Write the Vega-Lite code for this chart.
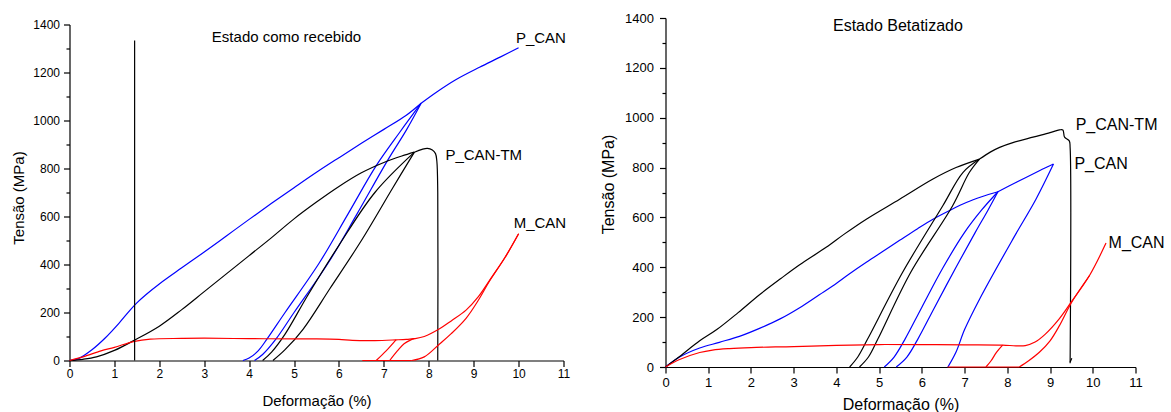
{
"$schema": "https://vega.github.io/schema/vega-lite/v6.json",
"padding": {"left": 11.5, "top": 12, "right": 5, "bottom": 0},
"spacing": 102,
"bounds": "flush",
"center": true,
"config": {"view": {"stroke": null}, "font": "Liberation Sans",
  "axis": {"grid": false, "domainColor": "#000", "tickColor": "#000", "labelColor": "#000", "titleColor": "#000", "labelFont": "Liberation Sans", "titleFont": "Liberation Sans", "titleFontWeight": "normal", "domainWidth": 1.2, "tickWidth": 1.2, "labelFlush": false, "labelOverlap": false}},
"datasets": {
 "rec": [
  {"s":"P_CAN","g":"a1","x":0,"y":0},{"s":"P_CAN","g":"a1","x":0.2,"y":8},{"s":"P_CAN","g":"a1","x":0.5,"y":45},{"s":"P_CAN","g":"a1","x":0.8,"y":95},{"s":"P_CAN","g":"a1","x":1.1,"y":155},{"s":"P_CAN","g":"a1","x":1.34,"y":208},{"s":"P_CAN","g":"a1","x":1.5,"y":240},{"s":"P_CAN","g":"a1","x":1.7,"y":274},{"s":"P_CAN","g":"a1","x":2.0,"y":319},{"s":"P_CAN","g":"a1","x":2.5,"y":386},{"s":"P_CAN","g":"a1","x":3.0,"y":452},{"s":"P_CAN","g":"a1","x":3.5,"y":520},{"s":"P_CAN","g":"a1","x":4.0,"y":588},{"s":"P_CAN","g":"a1","x":4.5,"y":655},{"s":"P_CAN","g":"a1","x":5.0,"y":720},{"s":"P_CAN","g":"a1","x":5.5,"y":784},{"s":"P_CAN","g":"a1","x":6.0,"y":845},{"s":"P_CAN","g":"a1","x":6.5,"y":905},{"s":"P_CAN","g":"a1","x":7.0,"y":963},{"s":"P_CAN","g":"a1","x":7.5,"y":1022},{"s":"P_CAN","g":"a1","x":7.83,"y":1072},
  {"s":"P_CAN","g":"a2","x":7.83,"y":1072},{"s":"P_CAN","g":"a2","x":7.5,"y":960},{"s":"P_CAN","g":"a2","x":7.09,"y":836},{"s":"P_CAN","g":"a2","x":6.4,"y":610},{"s":"P_CAN","g":"a2","x":5.75,"y":403},{"s":"P_CAN","g":"a2","x":5.0,"y":200},{"s":"P_CAN","g":"a2","x":4.6,"y":90},{"s":"P_CAN","g":"a2","x":4.3,"y":25},{"s":"P_CAN","g":"a2","x":4.12,"y":0},
  {"s":"P_CAN","g":"a3","x":3.86,"y":0},{"s":"P_CAN","g":"a3","x":4.0,"y":10},{"s":"P_CAN","g":"a3","x":4.2,"y":40},{"s":"P_CAN","g":"a3","x":4.4,"y":90},{"s":"P_CAN","g":"a3","x":4.8,"y":200},{"s":"P_CAN","g":"a3","x":5.55,"y":403},{"s":"P_CAN","g":"a3","x":6.2,"y":610},{"s":"P_CAN","g":"a3","x":6.83,"y":812},{"s":"P_CAN","g":"a3","x":7.35,"y":950},{"s":"P_CAN","g":"a3","x":7.83,"y":1072},
  {"s":"P_CAN","g":"a4","x":7.83,"y":1072},{"s":"P_CAN","g":"a4","x":8.17,"y":1118},{"s":"P_CAN","g":"a4","x":8.6,"y":1170},{"s":"P_CAN","g":"a4","x":9.13,"y":1222},{"s":"P_CAN","g":"a4","x":9.6,"y":1265},{"s":"P_CAN","g":"a4","x":10.0,"y":1303},

  {"s":"P_CAN-TM","g":"b1","x":0,"y":0},{"s":"P_CAN-TM","g":"b1","x":0.3,"y":5},{"s":"P_CAN-TM","g":"b1","x":0.6,"y":15},{"s":"P_CAN-TM","g":"b1","x":1.0,"y":42},{"s":"P_CAN-TM","g":"b1","x":1.45,"y":85},{"s":"P_CAN-TM","g":"b1","x":2.0,"y":143},{"s":"P_CAN-TM","g":"b1","x":2.5,"y":212},{"s":"P_CAN-TM","g":"b1","x":3.0,"y":287},{"s":"P_CAN-TM","g":"b1","x":3.5,"y":362},{"s":"P_CAN-TM","g":"b1","x":4.0,"y":437},{"s":"P_CAN-TM","g":"b1","x":4.5,"y":512},{"s":"P_CAN-TM","g":"b1","x":5.0,"y":590},{"s":"P_CAN-TM","g":"b1","x":5.5,"y":660},{"s":"P_CAN-TM","g":"b1","x":6.0,"y":725},{"s":"P_CAN-TM","g":"b1","x":6.5,"y":782},{"s":"P_CAN-TM","g":"b1","x":7.0,"y":825},{"s":"P_CAN-TM","g":"b1","x":7.4,"y":852},{"s":"P_CAN-TM","g":"b1","x":7.68,"y":868},
  {"s":"P_CAN-TM","g":"b2","x":7.68,"y":868},{"s":"P_CAN-TM","g":"b2","x":7.2,"y":720},{"s":"P_CAN-TM","g":"b2","x":6.5,"y":500},{"s":"P_CAN-TM","g":"b2","x":5.8,"y":300},{"s":"P_CAN-TM","g":"b2","x":5.2,"y":130},{"s":"P_CAN-TM","g":"b2","x":4.8,"y":45},{"s":"P_CAN-TM","g":"b2","x":4.53,"y":0},
  {"s":"P_CAN-TM","g":"b3","x":4.3,"y":0},{"s":"P_CAN-TM","g":"b3","x":4.5,"y":35},{"s":"P_CAN-TM","g":"b3","x":4.8,"y":110},{"s":"P_CAN-TM","g":"b3","x":5.3,"y":270},{"s":"P_CAN-TM","g":"b3","x":6.0,"y":480},{"s":"P_CAN-TM","g":"b3","x":6.8,"y":700},{"s":"P_CAN-TM","g":"b3","x":7.68,"y":868},
  {"s":"P_CAN-TM","g":"b4","x":7.68,"y":868},{"s":"P_CAN-TM","g":"b4","x":7.85,"y":880},{"s":"P_CAN-TM","g":"b4","x":7.97,"y":884},{"s":"P_CAN-TM","g":"b4","x":8.08,"y":877},{"s":"P_CAN-TM","g":"b4","x":8.15,"y":862},{"s":"P_CAN-TM","g":"b4","x":8.18,"y":830},{"s":"P_CAN-TM","g":"b4","x":8.2,"y":700},{"s":"P_CAN-TM","g":"b4","x":8.2,"y":0},

  {"s":"M_CAN","g":"c1","x":0,"y":0},{"s":"M_CAN","g":"c1","x":0.3,"y":15},{"s":"M_CAN","g":"c1","x":0.7,"y":40},{"s":"M_CAN","g":"c1","x":1.0,"y":55},{"s":"M_CAN","g":"c1","x":1.45,"y":80},{"s":"M_CAN","g":"c1","x":1.8,"y":89},{"s":"M_CAN","g":"c1","x":2.5,"y":92},{"s":"M_CAN","g":"c1","x":3.0,"y":93},{"s":"M_CAN","g":"c1","x":4.0,"y":91},{"s":"M_CAN","g":"c1","x":5.0,"y":90},{"s":"M_CAN","g":"c1","x":5.5,"y":90},{"s":"M_CAN","g":"c1","x":6.0,"y":88},{"s":"M_CAN","g":"c1","x":6.3,"y":84},{"s":"M_CAN","g":"c1","x":6.8,"y":83},{"s":"M_CAN","g":"c1","x":7.27,"y":86},{"s":"M_CAN","g":"c1","x":7.5,"y":88},{"s":"M_CAN","g":"c1","x":7.68,"y":91},{"s":"M_CAN","g":"c1","x":7.9,"y":100},{"s":"M_CAN","g":"c1","x":8.24,"y":132},{"s":"M_CAN","g":"c1","x":8.5,"y":165},{"s":"M_CAN","g":"c1","x":8.83,"y":210},{"s":"M_CAN","g":"c1","x":9.1,"y":265},{"s":"M_CAN","g":"c1","x":9.35,"y":333},{"s":"M_CAN","g":"c1","x":9.7,"y":430},{"s":"M_CAN","g":"c1","x":10.0,"y":528},
  {"s":"M_CAN","g":"c2","x":7.27,"y":86},{"s":"M_CAN","g":"c2","x":7.05,"y":40},{"s":"M_CAN","g":"c2","x":6.83,"y":0},
  {"s":"M_CAN","g":"c5","x":6.52,"y":0},{"s":"M_CAN","g":"c5","x":7.62,"y":0},
  {"s":"M_CAN","g":"c3","x":7.13,"y":0},{"s":"M_CAN","g":"c3","x":7.3,"y":40},{"s":"M_CAN","g":"c3","x":7.45,"y":70},{"s":"M_CAN","g":"c3","x":7.6,"y":86},{"s":"M_CAN","g":"c3","x":7.68,"y":91},
  {"s":"M_CAN","g":"c4","x":7.62,"y":0},{"s":"M_CAN","g":"c4","x":7.9,"y":15},{"s":"M_CAN","g":"c4","x":8.24,"y":69},{"s":"M_CAN","g":"c4","x":8.5,"y":112},{"s":"M_CAN","g":"c4","x":8.83,"y":176},{"s":"M_CAN","g":"c4","x":9.1,"y":250},{"s":"M_CAN","g":"c4","x":9.35,"y":330},{"s":"M_CAN","g":"c4","x":9.7,"y":430},{"s":"M_CAN","g":"c4","x":10.0,"y":528},

  {"s":"linha","g":"d","x":1.45,"y":0},{"s":"linha","g":"d","x":1.45,"y":1333}
 ],
 "recL": [
  {"t":"P_CAN","x":9.94,"y":1344},{"t":"P_CAN-TM","x":8.37,"y":858},{"t":"M_CAN","x":9.89,"y":575},{"t":"Estado como recebido","x":3.17,"y":1346}
 ],
 "bet": [
  {"s":"P_CAN","g":"a1","x":0,"y":0},{"s":"P_CAN","g":"a1","x":0.33,"y":40},{"s":"P_CAN","g":"a1","x":0.8,"y":76},{"s":"P_CAN","g":"a1","x":1.26,"y":99},{"s":"P_CAN","g":"a1","x":1.73,"y":123},{"s":"P_CAN","g":"a1","x":2.2,"y":155},{"s":"P_CAN","g":"a1","x":2.67,"y":192},{"s":"P_CAN","g":"a1","x":3.14,"y":238},{"s":"P_CAN","g":"a1","x":3.6,"y":290},{"s":"P_CAN","g":"a1","x":3.92,"y":326},{"s":"P_CAN","g":"a1","x":4.3,"y":373},{"s":"P_CAN","g":"a1","x":4.7,"y":420},{"s":"P_CAN","g":"a1","x":5.1,"y":465},{"s":"P_CAN","g":"a1","x":5.48,"y":508},{"s":"P_CAN","g":"a1","x":5.9,"y":555},{"s":"P_CAN","g":"a1","x":6.26,"y":593},{"s":"P_CAN","g":"a1","x":6.65,"y":628},{"s":"P_CAN","g":"a1","x":7.04,"y":660},{"s":"P_CAN","g":"a1","x":7.4,"y":683},{"s":"P_CAN","g":"a1","x":7.78,"y":703},
  {"s":"P_CAN","g":"a2","x":7.78,"y":703},{"s":"P_CAN","g":"a2","x":7.55,"y":630},{"s":"P_CAN","g":"a2","x":7.25,"y":540},{"s":"P_CAN","g":"a2","x":6.8,"y":400},{"s":"P_CAN","g":"a2","x":6.3,"y":240},{"s":"P_CAN","g":"a2","x":5.9,"y":110},{"s":"P_CAN","g":"a2","x":5.65,"y":40},{"s":"P_CAN","g":"a2","x":5.4,"y":0},
  {"s":"P_CAN","g":"a3","x":5.12,"y":0},{"s":"P_CAN","g":"a3","x":5.35,"y":40},{"s":"P_CAN","g":"a3","x":5.6,"y":110},{"s":"P_CAN","g":"a3","x":6.0,"y":240},{"s":"P_CAN","g":"a3","x":6.5,"y":400},{"s":"P_CAN","g":"a3","x":7.0,"y":540},{"s":"P_CAN","g":"a3","x":7.4,"y":630},{"s":"P_CAN","g":"a3","x":7.78,"y":703},
  {"s":"P_CAN","g":"a4","x":7.78,"y":703},{"s":"P_CAN","g":"a4","x":8.2,"y":740},{"s":"P_CAN","g":"a4","x":8.75,"y":787},{"s":"P_CAN","g":"a4","x":9.08,"y":814},
  {"s":"P_CAN","g":"a5","x":9.08,"y":814},{"s":"P_CAN","g":"a5","x":8.67,"y":673},{"s":"P_CAN","g":"a5","x":8.13,"y":513},{"s":"P_CAN","g":"a5","x":7.35,"y":272},{"s":"P_CAN","g":"a5","x":7.0,"y":150},{"s":"P_CAN","g":"a5","x":6.8,"y":60},{"s":"P_CAN","g":"a5","x":6.61,"y":0},

  {"s":"P_CAN-TM","g":"b1","x":0,"y":0},{"s":"P_CAN-TM","g":"b1","x":0.33,"y":42},{"s":"P_CAN-TM","g":"b1","x":0.8,"y":105},{"s":"P_CAN-TM","g":"b1","x":1.2,"y":150},{"s":"P_CAN-TM","g":"b1","x":1.7,"y":218},{"s":"P_CAN-TM","g":"b1","x":2.2,"y":290},{"s":"P_CAN-TM","g":"b1","x":2.7,"y":355},{"s":"P_CAN-TM","g":"b1","x":3.14,"y":410},{"s":"P_CAN-TM","g":"b1","x":3.76,"y":480},{"s":"P_CAN-TM","g":"b1","x":4.2,"y":535},{"s":"P_CAN-TM","g":"b1","x":4.7,"y":593},{"s":"P_CAN-TM","g":"b1","x":5.48,"y":673},{"s":"P_CAN-TM","g":"b1","x":6.26,"y":754},{"s":"P_CAN-TM","g":"b1","x":6.8,"y":800},{"s":"P_CAN-TM","g":"b1","x":7.35,"y":834},
  {"s":"P_CAN-TM","g":"b2","x":7.35,"y":834},{"s":"P_CAN-TM","g":"b2","x":7.11,"y":780},{"s":"P_CAN-TM","g":"b2","x":6.72,"y":647},{"s":"P_CAN-TM","g":"b2","x":5.74,"y":380},{"s":"P_CAN-TM","g":"b2","x":4.97,"y":112},{"s":"P_CAN-TM","g":"b2","x":4.75,"y":40},{"s":"P_CAN-TM","g":"b2","x":4.54,"y":0},
  {"s":"P_CAN-TM","g":"b3","x":4.31,"y":0},{"s":"P_CAN-TM","g":"b3","x":4.5,"y":40},{"s":"P_CAN-TM","g":"b3","x":4.73,"y":112},{"s":"P_CAN-TM","g":"b3","x":5.55,"y":380},{"s":"P_CAN-TM","g":"b3","x":6.49,"y":647},{"s":"P_CAN-TM","g":"b3","x":6.96,"y":780},{"s":"P_CAN-TM","g":"b3","x":7.35,"y":834},
  {"s":"P_CAN-TM","g":"b4","x":7.35,"y":834},{"s":"P_CAN-TM","g":"b4","x":7.6,"y":862},{"s":"P_CAN-TM","g":"b4","x":7.82,"y":881},{"s":"P_CAN-TM","g":"b4","x":8.13,"y":900},{"s":"P_CAN-TM","g":"b4","x":8.6,"y":922},{"s":"P_CAN-TM","g":"b4","x":9.0,"y":940},{"s":"P_CAN-TM","g":"b4","x":9.22,"y":951},{"s":"P_CAN-TM","g":"b4","x":9.3,"y":951},{"s":"P_CAN-TM","g":"b4","x":9.34,"y":922},{"s":"P_CAN-TM","g":"b4","x":9.45,"y":907},{"s":"P_CAN-TM","g":"b4","x":9.47,"y":880},{"s":"P_CAN-TM","g":"b4","x":9.47,"y":15},
  {"s":"P_CAN-TM","g":"b5","x":9.47,"y":20},{"s":"P_CAN-TM","g":"b5","x":9.51,"y":35},

  {"s":"M_CAN","g":"c1","x":0,"y":0},{"s":"M_CAN","g":"c1","x":0.33,"y":30},{"s":"M_CAN","g":"c1","x":0.8,"y":58},{"s":"M_CAN","g":"c1","x":1.1,"y":68},{"s":"M_CAN","g":"c1","x":1.5,"y":74},{"s":"M_CAN","g":"c1","x":2.0,"y":78},{"s":"M_CAN","g":"c1","x":3.0,"y":82},{"s":"M_CAN","g":"c1","x":4.0,"y":87},{"s":"M_CAN","g":"c1","x":5.0,"y":90},{"s":"M_CAN","g":"c1","x":6.0,"y":90},{"s":"M_CAN","g":"c1","x":7.0,"y":89},{"s":"M_CAN","g":"c1","x":7.89,"y":88},{"s":"M_CAN","g":"c1","x":8.2,"y":85},{"s":"M_CAN","g":"c1","x":8.42,"y":86},{"s":"M_CAN","g":"c1","x":8.65,"y":100},{"s":"M_CAN","g":"c1","x":8.89,"y":132},{"s":"M_CAN","g":"c1","x":9.2,"y":190},{"s":"M_CAN","g":"c1","x":9.49,"y":259},{"s":"M_CAN","g":"c1","x":9.92,"y":366},{"s":"M_CAN","g":"c1","x":10.31,"y":497},
  {"s":"M_CAN","g":"c2","x":7.89,"y":88},{"s":"M_CAN","g":"c2","x":7.75,"y":60},{"s":"M_CAN","g":"c2","x":7.62,"y":25},{"s":"M_CAN","g":"c2","x":7.5,"y":0},
  {"s":"M_CAN","g":"c4","x":6.6,"y":0},{"s":"M_CAN","g":"c4","x":8.28,"y":0},
  {"s":"M_CAN","g":"c3","x":8.28,"y":0},{"s":"M_CAN","g":"c3","x":8.5,"y":25},{"s":"M_CAN","g":"c3","x":8.75,"y":59},{"s":"M_CAN","g":"c3","x":9.0,"y":105},{"s":"M_CAN","g":"c3","x":9.22,"y":166},{"s":"M_CAN","g":"c3","x":9.5,"y":258},{"s":"M_CAN","g":"c3","x":9.92,"y":366}
 ],
 "betL": [
  {"t":"P_CAN-TM","x":9.6,"y":970},{"t":"P_CAN","x":9.57,"y":814},{"t":"M_CAN","x":10.37,"y":497},{"t":"Estado Betatizado","x":3.92,"y":1367}
 ]
},
"hconcat": [
 {
  "width": 494, "height": 336,
  "encoding": {
   "x": {"field": "x", "type": "quantitative", "scale": {"domain": [0, 11], "nice": false},
     "axis": {"values": [0,0.25,0.5,0.75,1,1.25,1.5,1.75,2,2.25,2.5,2.75,3,3.25,3.5,3.75,4,4.25,4.5,4.75,5,5.25,5.5,5.75,6,6.25,6.5,6.75,7,7.25,7.5,7.75,8,8.25,8.5,8.75,9,9.25,9.5,9.75,10,10.25,10.5,10.75,11],
       "format": "d",
       "labelExpr": "datum.value % 1 === 0 ? datum.label : ''",
       "tickSize": {"condition": {"test": "datum.value % 1 === 0", "value": 6}, "value": 3.5},
       "labelFontSize": 12, "labelPadding": 2, "title": "Deformação (%)", "titleFontSize": 15, "titleY": 40, "titleBaseline": "middle"}},
   "y": {"field": "y", "type": "quantitative", "scale": {"domain": [0, 1400], "nice": false},
     "axis": {"values": [0,100,200,300,400,500,600,700,800,900,1000,1100,1200,1300,1400],
       "format": "d",
       "labelExpr": "datum.value % 200 === 0 ? datum.label : ''",
       "tickSize": {"condition": {"test": "datum.value % 200 === 0", "value": 6}, "value": 3.5},
       "labelFontSize": 12, "labelPadding": 4, "title": "Tensão (MPa)", "titleFontSize": 15, "titleX": -51, "titleY": 173, "titleBaseline": "middle", "titleAngle": -90}}
  },
  "layer": [
   {"data": {"name": "rec"},
    "transform": [{"window": [{"op": "row_number", "as": "i"}]}],
    "mark": {"type": "line", "strokeWidth": 1.2, "interpolate": "catmull-rom"},
    "encoding": {
     "color": {"field": "s", "type": "nominal", "scale": {"domain": ["P_CAN","P_CAN-TM","M_CAN","linha"], "range": ["#0000ff","#000000","#ff0000","#000000"]}, "legend": null},
     "detail": {"field": "g"},
     "order": {"field": "i", "type": "quantitative"}
    }},
   {"data": {"name": "recL"},
    "mark": {"type": "text", "align": "left", "baseline": "middle", "fontSize": 15, "font": "Liberation Sans", "color": "#000"},
    "encoding": {"text": {"field": "t"}}}
  ]
 },
 {
  "width": 470, "height": 349,
  "encoding": {
   "x": {"field": "x", "type": "quantitative", "scale": {"domain": [0, 11], "nice": false},
     "axis": {"values": [0,0.25,0.5,0.75,1,1.25,1.5,1.75,2,2.25,2.5,2.75,3,3.25,3.5,3.75,4,4.25,4.5,4.75,5,5.25,5.5,5.75,6,6.25,6.5,6.75,7,7.25,7.5,7.75,8,8.25,8.5,8.75,9,9.25,9.5,9.75,10,10.25,10.5,10.75,11],
       "format": "d",
       "labelExpr": "datum.value % 1 === 0 ? datum.label : ''",
       "tickSize": {"condition": {"test": "datum.value % 1 === 0", "value": 6}, "value": 3.5},
       "labelFontSize": 13, "labelPadding": 3, "title": "Deformação (%)", "titleFontSize": 16, "titleY": 37, "titleBaseline": "middle"}},
   "y": {"field": "y", "type": "quantitative", "scale": {"domain": [0, 1400], "nice": false},
     "axis": {"values": [0,100,200,300,400,500,600,700,800,900,1000,1100,1200,1300,1400],
       "format": "d",
       "labelExpr": "datum.value % 200 === 0 ? datum.label : ''",
       "tickSize": {"condition": {"test": "datum.value % 200 === 0", "value": 6}, "value": 3.5},
       "labelFontSize": 13, "labelPadding": 6, "title": "Tensão (MPa)", "titleFontSize": 16, "titleX": -57, "titleY": 166, "titleBaseline": "middle", "titleAngle": -90}}
  },
  "layer": [
   {"data": {"name": "bet"},
    "transform": [{"window": [{"op": "row_number", "as": "i"}]}],
    "mark": {"type": "line", "strokeWidth": 1.2, "interpolate": "catmull-rom"},
    "encoding": {
     "color": {"field": "s", "type": "nominal", "scale": {"domain": ["P_CAN","P_CAN-TM","M_CAN","linha"], "range": ["#0000ff","#000000","#ff0000","#000000"]}, "legend": null},
     "detail": {"field": "g"},
     "order": {"field": "i", "type": "quantitative"}
    }},
   {"data": {"name": "betL"},
    "mark": {"type": "text", "align": "left", "baseline": "middle", "fontSize": 16, "font": "Liberation Sans", "color": "#000"},
    "encoding": {"text": {"field": "t"}}}
  ]
 }
]
}
